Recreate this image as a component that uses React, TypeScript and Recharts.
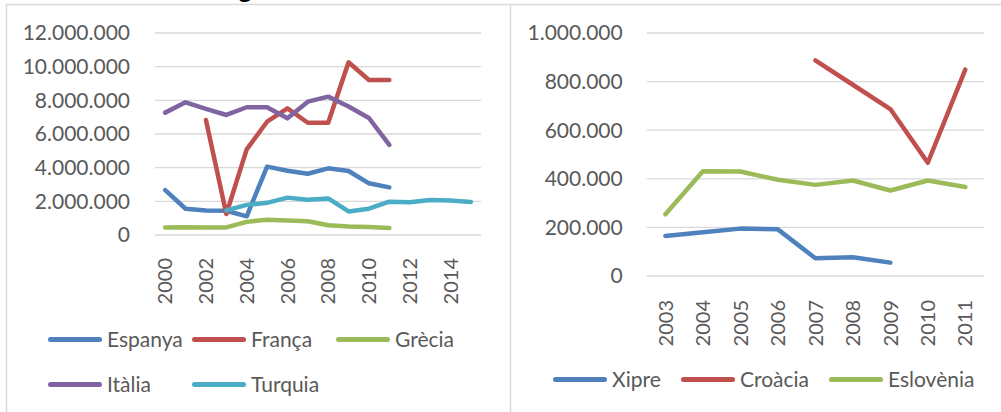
import React from 'react';
import { LineChart, Line, XAxis, YAxis, CartesianGrid } from 'recharts';

// ---------- Left chart data ----------
const yearsLeft = ['2000', '2001', '2002', '2003', '2004', '2005', '2006', '2007', '2008', '2009', '2010', '2011', '2012', '2013', '2014', '2015'];
const espanya = [2670000, 1560000, 1460000, 1440000, 1110000, 4060000, 3820000, 3640000, 3960000, 3800000, 3070000, 2830000, null, null, null, null];
const franca = [null, null, 6830000, 1250000, 5090000, 6730000, 7520000, 6670000, 6670000, 10260000, 9210000, 9210000, null, null, null, null];
const grecia = [450000, 460000, 440000, 450000, 780000, 910000, 860000, 820000, 580000, 510000, 470000, 410000, null, null, null, null];
const italia = [7270000, 7880000, 7490000, 7130000, 7590000, 7590000, 6930000, 7920000, 8220000, 7630000, 6950000, 5350000, null, null, null, null];
const turquia = [null, null, null, 1460000, 1790000, 1910000, 2220000, 2100000, 2170000, 1400000, 1560000, 1980000, 1940000, 2080000, 2050000, 1960000];
const ticksLeft = [0, 2000000, 4000000, 6000000, 8000000, 10000000, 12000000];

// ---------- Right chart data ----------
const yearsRight = ['2003', '2004', '2005', '2006', '2007', '2008', '2009', '2010', '2011'];
const xipre = [165000, 180000, 195000, 192000, 73000, 77000, 55000, null, null];
const croacia = [null, null, null, null, 887000, 787000, 687000, 466000, 849000];
const eslovenia = [254000, 431000, 430000, 396000, 375000, 393000, 352000, 393000, 366000];
const ticksRight = [0, 200000, 400000, 600000, 800000, 1000000];

const C_BLUE = '#4F81BD';
const C_RED = '#C0504D';
const C_GREEN = '#9BBB59';
const C_PURPLE = '#8064A2';
const C_AQUA = '#4BACC6';

const seriesLeft = [
  { key: 'Espanya', values: espanya, color: C_BLUE },
  { key: 'França', values: franca, color: C_RED },
  { key: 'Grècia', values: grecia, color: C_GREEN },
  { key: 'Itàlia', values: italia, color: C_PURPLE },
  { key: 'Turquia', values: turquia, color: C_AQUA },
];
const seriesRight = [
  { key: 'Xipre', values: xipre, color: C_BLUE },
  { key: 'Croàcia', values: croacia, color: C_RED },
  { key: 'Eslovènia', values: eslovenia, color: C_GREEN },
];

const dataLeft = yearsLeft.map((y, i) => {
  const row: any = { year: y };
  seriesLeft.forEach((s) => (row[s.key] = s.values[i]));
  return row;
});
const dataRight = yearsRight.map((y, i) => {
  const row: any = { year: y };
  seriesRight.forEach((s) => (row[s.key] = s.values[i]));
  return row;
});

const FONT = 'Lato, "Open Sans", sans-serif';
const TXT = '#595959';
const GRID = '#D9D9D9';

const fmt = (v: number) => v.toString().replace(/\B(?=(\d{3})+(?!\d))/g, '.');

const RotTick = (props: any) => {
  const { x, y, payload, off } = props;
  return (
    <text
      x={x}
      y={y + off}
      dy="0.36em"
      transform={`rotate(-90, ${x}, ${y + off})`}
      textAnchor="end"
      fill={TXT}
      fontSize={20}
      fontFamily={FONT}
    >
      {payload.value}
    </text>
  );
};

const LegendItem = ({ left, top, color, label }: any) => (
  <div style={{ position: 'absolute', left, top, height: 24, display: 'flex', alignItems: 'center', whiteSpace: 'nowrap' }}>
    <div style={{ width: 54, height: 5, borderRadius: 3, background: color, marginRight: 5 }} />
    <span style={{ fontFamily: FONT, fontSize: 21, color: TXT, lineHeight: '24px' }}>{label}</span>
  </div>
);

export default function App() {
  const leftPos = [
    { left: 48, top: 327 },
    { left: 192, top: 327 },
    { left: 336, top: 327 },
    { left: 48, top: 372 },
    { left: 192, top: 372 },
  ];
  const rightPos = [
    { left: 553, top: 367 },
    { left: 681, top: 367 },
    { left: 829, top: 367 },
  ];
  return (
    <div style={{ position: 'absolute', left: 0, top: 0, width: 1001, height: 412, background: '#fff', overflow: 'hidden' }}>
      <div style={{ position: 'absolute', left: 0, top: 0 }}>
        <LineChart width={505} height={412} data={dataLeft} margin={{ top: 33, right: 24, bottom: 117, left: 0 }}>
          <CartesianGrid vertical={false} stroke={GRID} strokeWidth={1.3} />
          <XAxis
            dataKey="year"
            axisLine={false}
            tickLine={false}
            interval={1}
            height={60}
            padding={{ left: 10.2, right: 10.2 }}
            tick={<RotTick off={15} />}
          />
          <YAxis
            width={155}
            domain={[0, 12000000]}
            ticks={ticksLeft}
            axisLine={false}
            tickLine={false}
            tickSize={0}
            tickMargin={25}
            tickFormatter={fmt}
            tick={{ fill: TXT, fontSize: 21, fontFamily: FONT }}
          />
          {seriesLeft.map((s) => (
            <Line
              key={s.key}
              dataKey={s.key}
              stroke={s.color}
              strokeWidth={4.5}
              strokeLinecap="round"
              strokeLinejoin="round"
              dot={false}
              activeDot={false}
              isAnimationActive={false}
            />
          ))}
        </LineChart>
      </div>
      <div style={{ position: 'absolute', left: 510, top: 0 }}>
        <LineChart width={491} height={412} data={dataRight} margin={{ top: 33, right: 17, bottom: 76, left: 0 }}>
          <CartesianGrid vertical={false} stroke={GRID} strokeWidth={1.3} />
          <XAxis
            dataKey="year"
            axisLine={false}
            tickLine={false}
            interval={0}
            height={60}
            padding={{ left: 18.7, right: 18.7 }}
            tick={<RotTick off={16} />}
          />
          <YAxis
            width={136.7}
            domain={[0, 1000000]}
            ticks={ticksRight}
            axisLine={false}
            tickLine={false}
            tickSize={0}
            tickMargin={24}
            tickFormatter={fmt}
            tick={{ fill: TXT, fontSize: 21, fontFamily: FONT }}
          />
          {seriesRight.map((s) => (
            <Line
              key={s.key}
              dataKey={s.key}
              stroke={s.color}
              strokeWidth={4.5}
              strokeLinecap="round"
              strokeLinejoin="round"
              dot={false}
              activeDot={false}
              isAnimationActive={false}
            />
          ))}
        </LineChart>
      </div>
      {seriesLeft.map((s, i) => (
        <LegendItem key={s.key} left={leftPos[i].left} top={leftPos[i].top} color={s.color} label={s.key} />
      ))}
      {seriesRight.map((s, i) => (
        <LegendItem key={s.key} left={rightPos[i].left} top={rightPos[i].top} color={s.color} label={s.key} />
      ))}
      <svg width={1001} height={412} style={{ position: 'absolute', left: 0, top: 0, pointerEvents: 'none' }}>
        <line x1={6} y1={4.5} x2={1001} y2={4.5} stroke={GRID} strokeWidth={1.5} />
        <line x1={6.5} y1={4} x2={6.5} y2={412} stroke={GRID} strokeWidth={1.5} />
        <line x1={510.5} y1={4} x2={510.5} y2={412} stroke={GRID} strokeWidth={1.5} />
        <text x={245} y={-2.5} textAnchor="middle" fontSize={26} fontWeight={700} fontFamily={FONT} fill="#000">
          g
        </text>
      </svg>
    </div>
  );
}
